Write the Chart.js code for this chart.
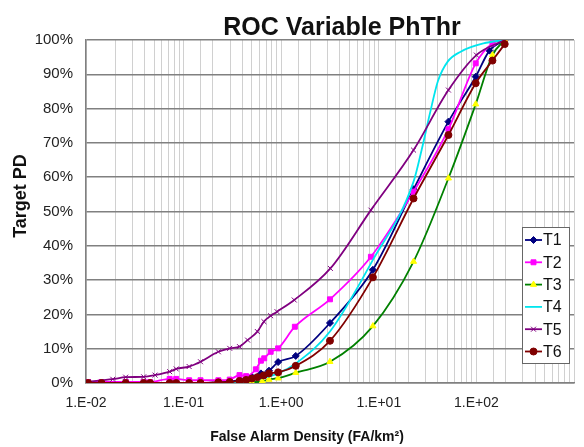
<!DOCTYPE html>
<html>
<head>
<meta charset="utf-8">
<script src="https://cdn.jsdelivr.net/npm/chart.js@4.4.1/dist/chart.umd.min.js"></script>
<style>
  html, body { margin: 0; padding: 0; background: #fff; overflow: hidden; }
  #roc { display: block; }
</style>
</head>
<body>
<canvas id="roc" width="586" height="447"></canvas>
<script>
// false alarm density (FA/km2) and target PD (%) per threshold set
const faT1 = [0.0105, 0.0144, 0.0255, 0.039, 0.0454, 0.072, 0.084, 0.114, 0.149, 0.227, 0.297, 0.374, 0.437, 0.5, 0.62, 0.75, 0.93, 1.41, 3.16, 8.7, 22.7, 51.7, 98.4, 136, 195];
const pdT1 = [0, 0, 0, 0, 0, 0, 0, 0, 0, 0.2, 0.4, 0.8, 1.2, 1.8, 2.8, 3.6, 6.1, 7.9, 17.5, 33, 56.5, 76.2, 89.3, 96.9, 100];

const faT2 = [0.0105, 0.0144, 0.0255, 0.039, 0.0454, 0.072, 0.084, 0.114, 0.149, 0.227, 0.297, 0.374, 0.437, 0.55, 0.62, 0.67, 0.78, 0.93, 1.38, 3.16, 8.3, 22.7, 51.7, 98.4, 146, 195];
const pdT2 = [0.3, 0.3, 0.3, 0.3, 0.3, 1.2, 1.2, 0.8, 0.8, 0.8, 1.0, 2.3, 2.0, 4.0, 6.5, 7.2, 9.1, 10.1, 16.4, 24.4, 36.8, 55.8, 74, 93.2, 99, 100];

const faT3 = [0.0105, 0.0144, 0.0255, 0.039, 0.0454, 0.072, 0.084, 0.114, 0.149, 0.227, 0.297, 0.374, 0.437, 0.5, 0.64, 0.75, 0.93, 1.41, 3.16, 8.7, 22.7, 51.7, 98.4, 146, 195];
const pdT3 = [0, 0, 0, 0, 0, 0, 0, 0, 0, 0, 0, 0, 0, 0.2, 0.5, 1.0, 1.4, 3.0, 6.2, 16.6, 35.4, 59.7, 81.3, 95.6, 100];

const faT4 = [0.0105, 0.0144, 0.0255, 0.039, 0.0454, 0.072, 0.084, 0.114, 0.149, 0.227, 0.297, 0.374, 0.437, 0.5, 0.66, 0.93, 1.41, 3.16, 8.7, 22.7, 27.5, 33.4, 40.3, 50.8, 69, 118, 195];
const pdT4 = [0, 0, 0, 0, 0, 0, 0, 0, 0, 0, 0.1, 0.2, 0.3, 0.8, 1.5, 2.8, 5.7, 15, 35.9, 58.7, 68, 78.6, 88, 93.7, 96.6, 99, 100];

const faT5 = [0.0105, 0.0188, 0.0255, 0.039, 0.051, 0.072, 0.084, 0.114, 0.149, 0.227, 0.297, 0.374, 0.453, 0.57, 0.665, 0.78, 0.906, 1.36, 3.19, 8.3, 22.7, 51.7, 100, 195];
const pdT5 = [0.4, 1.1, 1.7, 1.8, 2.3, 3.3, 4.1, 4.8, 6.2, 9.1, 10.1, 10.6, 12.5, 15, 17.9, 19.6, 20.8, 24.2, 33.4, 50.4, 67.9, 85.4, 95.6, 100];

const faT6 = [0.0105, 0.0144, 0.0255, 0.039, 0.0454, 0.072, 0.084, 0.114, 0.149, 0.227, 0.297, 0.374, 0.437, 0.5, 0.57, 0.66, 0.75, 0.93, 1.41, 3.16, 8.7, 22.7, 51.7, 98.4, 146, 195];
const pdT6 = [0, 0, 0, 0, 0, 0, 0, 0, 0, 0.2, 0.3, 0.6, 0.9, 1.3, 1.7, 2.2, 2.8, 3.1, 5.0, 12.3, 30.8, 53.8, 72.3, 87.4, 94, 98.8];

const seriesNames = ['T1', 'T2', 'T3', 'T4', 'T5', 'T6'];
const yTicks = [0, 10, 20, 30, 40, 50, 60, 70, 80, 90, 100];

const chartTitle = 'ROC Variable PhThr';
const xTitle = 'False Alarm Density (FA/km²)';
const yTitle = 'Target PD';
const fontFam = '"Liberation Sans", Arial, sans-serif';

function toPoints(fa, pd) {
    return fa.map((v, i) => ({ x: v, y: pd[i] }));
}

function makeSet(idx, fa, pd, line, marker, style, radius) {
    return {
        label: seriesNames[idx],
        data: toPoints(fa, pd),
        borderColor: line,
        backgroundColor: marker,
        pointBackgroundColor: marker,
        pointBorderColor: marker,
        pointStyle: style,
        pointRadius: radius,
        pointBorderWidth: 1,
        borderWidth: 1.8,
        cubicInterpolationMode: 'monotone',
        fill: false,
        order: 6 - idx
    };
}

const datasets = [
    makeSet(0, faT1, pdT1, '#000080', '#000080', 'rectRot', 3.5),
    makeSet(1, faT2, pdT2, '#ff00ff', '#ff00ff', 'rect', 3.5),
    makeSet(2, faT3, pdT3, '#008000', '#ffff00', 'triangle', 3.5),
    makeSet(3, faT4, pdT4, '#00e5ee', '#00e5ee', 'circle', 0),
    makeSet(4, faT5, pdT5, '#800080', '#800080', 'crossRot', 3.5),
    makeSet(5, faT6, pdT6, '#800000', '#800000', 'circle', 3.5)
];

// titles placed like the excel original (not centred on the plot)
const titles = {
    id: 'titles',
    afterDraw(chart) {
        const ctx = chart.ctx;
        ctx.save();
        ctx.fillStyle = '#111';
        ctx.textAlign = 'center';
        ctx.textBaseline = 'middle';
        ctx.font = 'bold 25px ' + fontFam;
        ctx.fillText(chartTitle, 342, 28);
        ctx.font = 'bold 14px ' + fontFam;
        ctx.fillText(xTitle, 307, 437);
        ctx.translate(21, 196);
        ctx.rotate(-Math.PI / 2);
        ctx.font = 'bold 18px ' + fontFam;
        ctx.fillText(yTitle, 0, 0);
        ctx.restore();
    }
};

// legend box drawn inside the plot, Excel style
const boxLegend = {
    id: 'boxLegend',
    afterDraw(chart) {
        const ctx = chart.ctx;
        const x0 = 522, y0 = 227, w = 47, h = 136;
        ctx.save();
        ctx.fillStyle = '#fff';
        ctx.fillRect(x0, y0, w, h);
        ctx.strokeStyle = '#666';
        ctx.lineWidth = 1;
        ctx.strokeRect(x0 + 0.5, y0 + 0.5, w, h);
        chart.data.datasets.forEach((ds, i) => {
            const cy = y0 + 13 + i * 22.3;
            ctx.strokeStyle = ds.borderColor;
            ctx.lineWidth = 1.8;
            ctx.beginPath();
            ctx.moveTo(x0 + 3, cy);
            ctx.lineTo(x0 + 20, cy);
            ctx.stroke();
            if (ds.pointRadius > 0) {
                ctx.fillStyle = ds.pointBackgroundColor;
                ctx.strokeStyle = ds.pointBorderColor;
                ctx.lineWidth = 1;
                Chart.helpers.drawPoint(ctx, { pointStyle: ds.pointStyle, radius: ds.pointRadius, borderWidth: 1, rotation: 0 }, x0 + 11.5, cy);
            }
            ctx.fillStyle = '#111';
            ctx.font = '16px ' + fontFam;
            ctx.textAlign = 'left';
            ctx.textBaseline = 'middle';
            ctx.fillText(ds.label, x0 + 21, cy + 1);
        });
        ctx.restore();
    }
};

function expLabel(v) {
    const e = Math.round(Math.log10(v));
    if (Math.abs(Math.log10(v) - e) > 1e-6 || e >= 3) return '';
    return '1.E' + (e < 0 ? '-' : '+') + String(Math.abs(e)).padStart(2, '0');
}

const ctx = document.getElementById('roc').getContext('2d');
const rocChart = new Chart(ctx, {
    type: 'line',
    data: { datasets: datasets },
    plugins: [boxLegend, titles],
    options: {
        responsive: false,
        animation: false,
        layout: { padding: { top: 40, left: 0, right: 0, bottom: 0 } },
        plugins: {
            legend: { display: false },
            tooltip: { enabled: false },
            title: { display: false }
        },
        scales: {
            x: {
                type: 'logarithmic',
                min: 0.01,
                max: 1000,
                border: { color: '#808080', width: 1.5 },
                grid: { color: '#d0d0d0', lineWidth: 1, drawTicks: false },
                ticks: {
                    autoSkip: false,
                    maxRotation: 0,
                    padding: 12,
                    color: '#222',
                    font: { family: fontFam, size: 14 },
                    callback: (v) => expLabel(v)
                },
                afterFit: (scale) => { scale.height = 64; }
            },
            y: {
                min: 0,
                max: 100,
                afterBuildTicks: (scale) => { scale.ticks = yTicks.map(v => ({ value: v })); },
                border: { color: '#808080', width: 1.5 },
                grid: { color: '#808080', lineWidth: 1.5, drawTicks: false },
                ticks: {
                    padding: 13,
                    color: '#222',
                    font: { family: fontFam, size: 15 },
                    callback: (v) => v + '%'
                },
                afterFit: (scale) => { scale.width = 86; }
            }
        }
    }
});
</script>
</body>
</html>
